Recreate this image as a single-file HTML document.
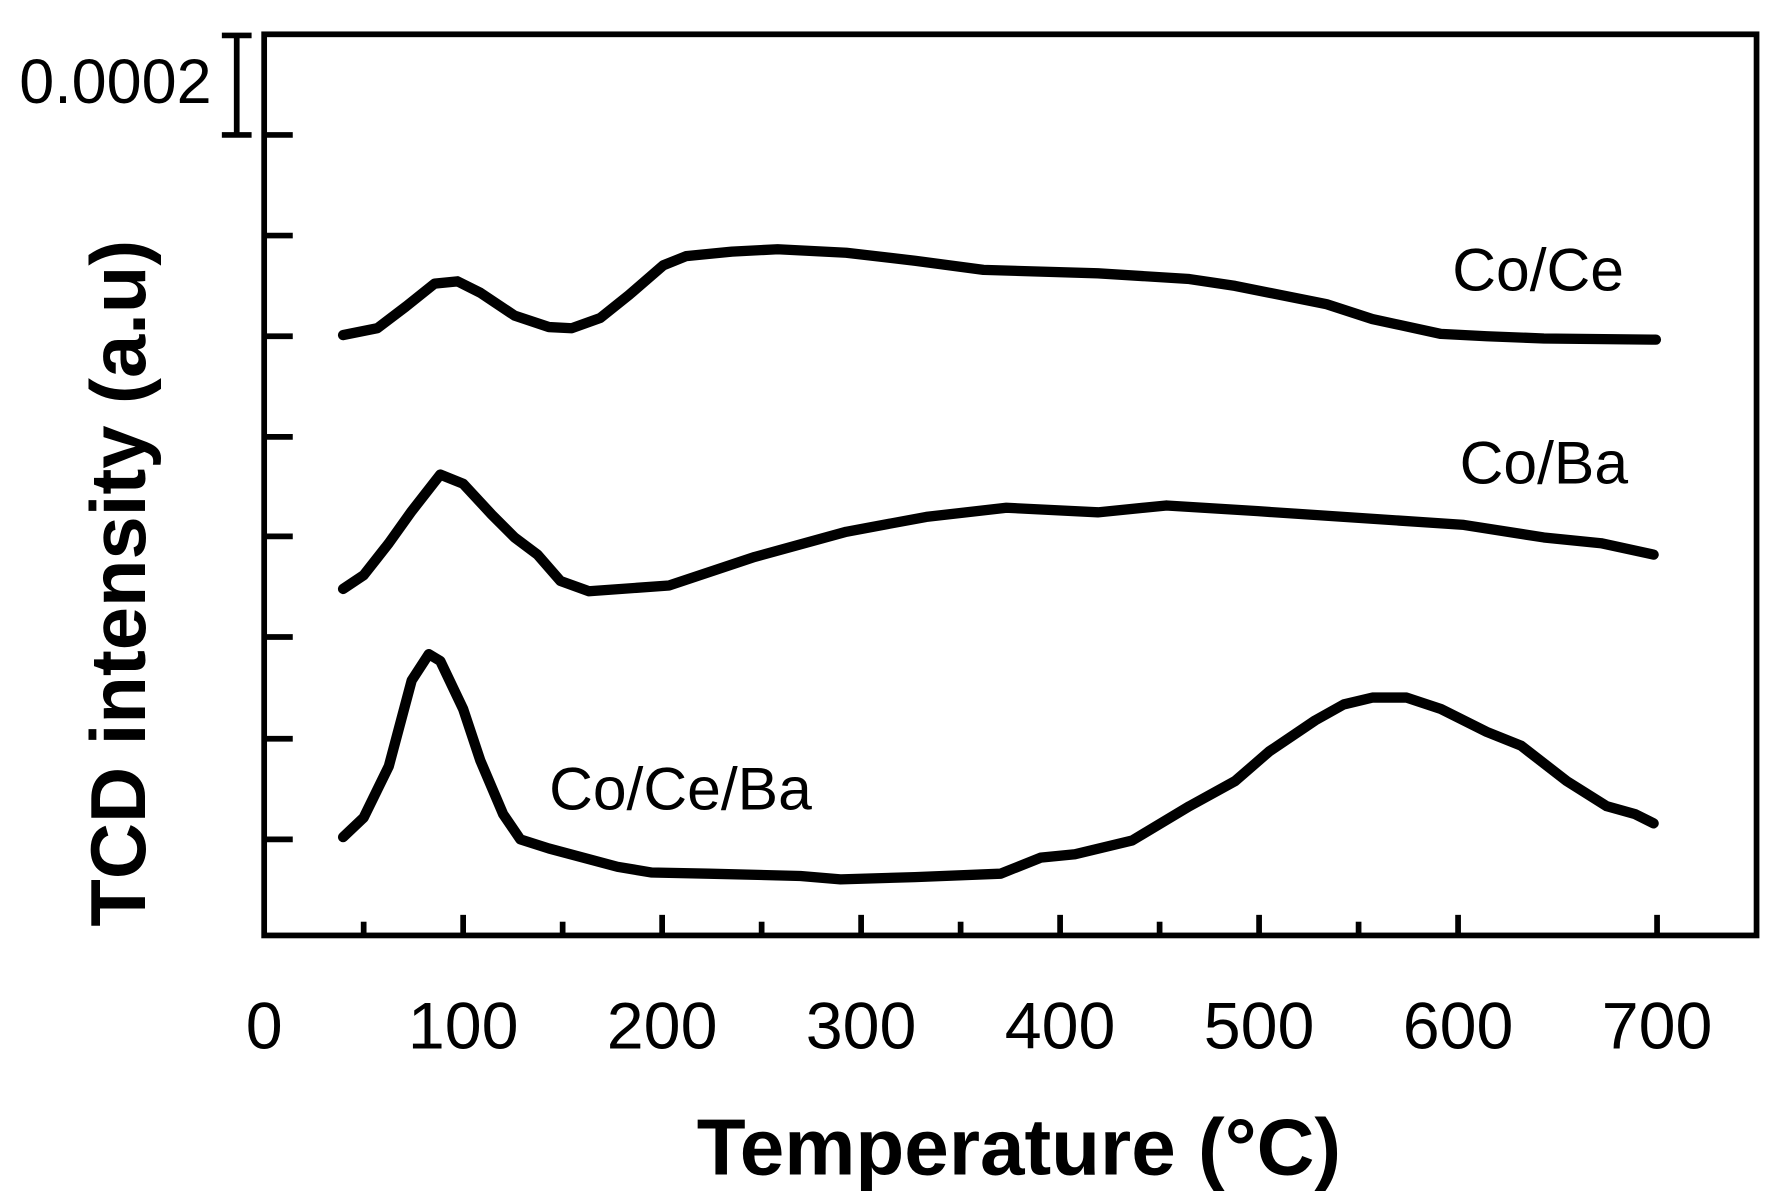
<!DOCTYPE html>
<html><head><style>html,body{margin:0;padding:0;background:#fff}svg{display:block}</style></head>
<body>
<svg width="1784" height="1198" viewBox="0 0 1560 1047.6" preserveAspectRatio="none" xmlns="http://www.w3.org/2000/svg" font-family="Liberation Sans, Arial, sans-serif">
<rect x="0" y="0" width="1560" height="1048" fill="#fff"/>
<rect x="231" y="30" width="1305" height="788" fill="none" stroke="#000" stroke-width="5"/>
<g stroke="#000" stroke-width="5">
<line x1="207" y1="31" x2="207" y2="118"/><line x1="194" y1="31" x2="220" y2="31"/><line x1="194" y1="118" x2="220" y2="118"/>
<line x1="231" y1="118" x2="256" y2="118"/><line x1="231" y1="206" x2="256" y2="206"/><line x1="231" y1="294" x2="256" y2="294"/><line x1="231" y1="382" x2="256" y2="382"/><line x1="231" y1="469" x2="256" y2="469"/><line x1="231" y1="557" x2="256" y2="557"/><line x1="231" y1="646" x2="256" y2="646"/><line x1="231" y1="734" x2="256" y2="734"/>
<line x1="405" y1="818" x2="405" y2="800"/><line x1="579" y1="818" x2="579" y2="800"/><line x1="753" y1="818" x2="753" y2="800"/><line x1="927" y1="818" x2="927" y2="800"/><line x1="1101" y1="818" x2="1101" y2="800"/><line x1="1275" y1="818" x2="1275" y2="800"/><line x1="1449" y1="818" x2="1449" y2="800"/>
<line x1="318" y1="818" x2="318" y2="806"/><line x1="492" y1="818" x2="492" y2="806"/><line x1="666" y1="818" x2="666" y2="806"/><line x1="840" y1="818" x2="840" y2="806"/><line x1="1014" y1="818" x2="1014" y2="806"/><line x1="1188" y1="818" x2="1188" y2="806"/>
</g>
<g fill="none" stroke="#000" stroke-width="9" stroke-linejoin="round" stroke-linecap="round">
<polyline points="300,293 330,287 355,268 380,248 400,246 420,256 450,276 480,286 500,287 525,278 550,258 580,232 600,224 640,220 680,218 740,221 800,228 860,236 960,239 1040,244 1080,250 1160,266 1200,279 1260,292 1300,294 1350,296 1448,297"/>
<polyline points="300,515 318,503 340,475 360,447 385,415 405,423 430,450 450,470 470,485 490,508 515,517 585,512 660,487 740,465 810,452 880,444 960,448 1020,442 1100,447 1280,459 1350,470 1400,475 1446,485"/>
<polyline points="300,732 318,715 340,670 360,595 375,572 385,578 405,620 420,665 440,712 455,734 480,742 540,758 570,763 620,764 700,766 735,769 800,767 875,764 910,750 940,747 990,735 1040,705 1080,683 1110,657 1150,630 1175,616 1200,610 1230,610 1260,620 1300,640 1330,652 1370,683 1405,705 1430,712 1446,720"/>
</g>
<g fill="#000" font-size="53">
<text x="185" y="90" text-anchor="end" font-size="55">0.0002</text>
<text x="1345" y="254" text-anchor="middle">Co/Ce</text>
<text x="1350" y="423" text-anchor="middle">Co/Ba</text>
<text x="595" y="708" text-anchor="middle">Co/Ce/Ba</text>
</g>
<g fill="#000" font-size="58" text-anchor="middle">
<text x="231" y="917">0</text><text x="405" y="917">100</text><text x="579" y="917">200</text><text x="753" y="917">300</text><text x="927" y="917">400</text><text x="1101" y="917">500</text><text x="1275" y="917">600</text><text x="1449" y="917">700</text>
</g>
<text x="891" y="1027" text-anchor="middle" font-size="70" font-weight="bold">Temperature (°C)</text>
<text transform="translate(127,510) rotate(-90)" text-anchor="middle" font-size="68" font-weight="bold">TCD intensity (a.u)</text>
</svg>
</body></html>
